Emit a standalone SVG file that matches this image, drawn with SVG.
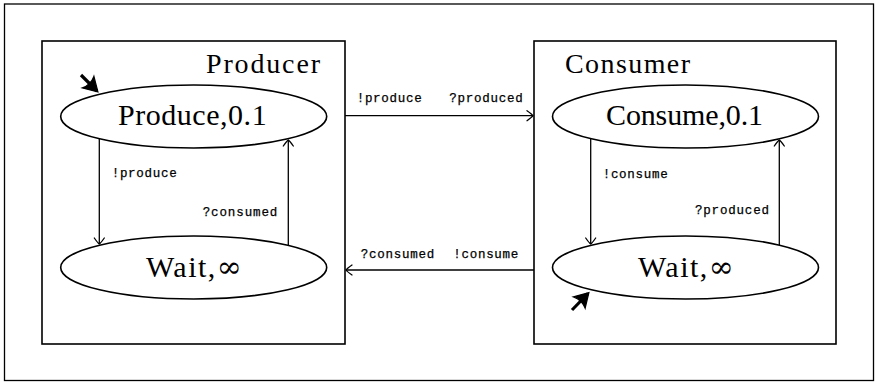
<svg xmlns="http://www.w3.org/2000/svg" width="880" height="382" viewBox="0 0 880 382">
<defs>
<marker id="to" markerUnits="userSpaceOnUse" markerWidth="14" markerHeight="14" refX="0" refY="0" viewBox="-8 -7 10 14" orient="auto" overflow="visible">
<path d="M-6,-5 Q-1,-1.5 0,0 Q-1,1.5 -6,5" fill="none" stroke="#000" stroke-width="1.3" stroke-linecap="round"/>
</marker>
<marker id="init" markerUnits="userSpaceOnUse" markerWidth="20" markerHeight="20" refX="0" refY="0" viewBox="-12 -8 14 16" orient="auto" overflow="visible">
<path d="M-10,-6.5 L1,0 L-10,6.5 Q-7,0 -10,-6.5 Z" fill="#000" stroke="#000" stroke-width="1" stroke-linejoin="miter"/>
</marker>
</defs>
<style>
.box{fill:none;stroke:#000;stroke-width:1.6}
.st{fill:#fff;stroke:#000;stroke-width:1.6}
.ser{font-family:"Liberation Serif","Times New Roman",serif;fill:#000}
.inf{font-family:"DejaVu Serif",serif}
.mono{font-family:"Liberation Mono","Courier New",monospace;font-size:12.5px;fill:#000;stroke:#000;stroke-width:0.25}
.edge{fill:none;stroke:#000;stroke-width:1.3;marker-end:url(#to)}
.ini{fill:none;stroke:#000;stroke-width:3.2;marker-end:url(#init)}
</style>
<rect x="0" y="0" width="880" height="382" fill="#fff"/>
<rect x="4.5" y="4" width="869" height="376.5" fill="none" stroke="#000" stroke-width="1.3"/>
<g id="producer">
<rect class="box" x="42" y="41" width="303" height="303"/>
<text class="ser" x="320" y="73" font-size="28" text-anchor="end" textLength="114">Producer</text>
</g>
<g id="consumer">
<rect class="box" x="534" y="41" width="302" height="303"/>
<text class="ser" x="565" y="73" font-size="28" textLength="125">Consumer</text>
</g>
<g id="connectors">
<line class="edge" x1="99.3" y1="138.7" x2="99.3" y2="244"/>
<line class="edge" x1="288.3" y1="245.3" x2="288.3" y2="140"/>
<line class="edge" x1="590.7" y1="138.7" x2="590.7" y2="244"/>
<line class="edge" x1="779.3" y1="245.3" x2="779.3" y2="140"/>
<line class="edge" x1="345" y1="115.7" x2="533" y2="115.7"/>
<line class="edge" x1="534" y1="270" x2="346" y2="270"/>
<line class="ini" x1="81" y1="75" x2="97" y2="91"/>
<line class="ini" x1="572" y1="310" x2="588" y2="293.5"/>
<text class="mono" x="111.7" y="177" textLength="65">!produce</text>
<text class="mono" x="202.7" y="216" textLength="74.6">?consumed</text>
<text class="mono" x="602.7" y="178.3" textLength="65">!consume</text>
<text class="mono" x="695" y="214" textLength="74">?produced</text>
<text class="mono" x="356.7" y="101.7" textLength="65">!produce</text>
<text class="mono" x="449.3" y="101.7" textLength="73.4">?produced</text>
<text class="mono" x="360.7" y="258.3" textLength="73.6">?consumed</text>
<text class="mono" x="453.3" y="258.3" textLength="65">!consume</text>
</g>
<g id="produce">
<ellipse class="st" cx="193.7" cy="116.5" rx="133" ry="31.5"/>
<text class="ser" x="192.3" y="125" font-size="30" text-anchor="middle" textLength="148.7">Produce,0.1</text>
</g>
<g id="pwait">
<ellipse class="st" cx="193.7" cy="267.5" rx="133" ry="31.5"/>
<text class="ser" x="146" y="277" font-size="30" textLength="95.7">Wait,<tspan class="inf">∞</tspan></text>
</g>
<g id="consume">
<ellipse class="st" cx="685.5" cy="116.5" rx="133" ry="31.5"/>
<text class="ser" x="684.5" y="125" font-size="30" text-anchor="middle" textLength="157">Consume,0.1</text>
</g>
<g id="cwait">
<ellipse class="st" cx="685.5" cy="267.5" rx="133" ry="31.5"/>
<text class="ser" x="638" y="277" font-size="30" textLength="95.7">Wait,<tspan class="inf">∞</tspan></text>
</g>
</svg>
